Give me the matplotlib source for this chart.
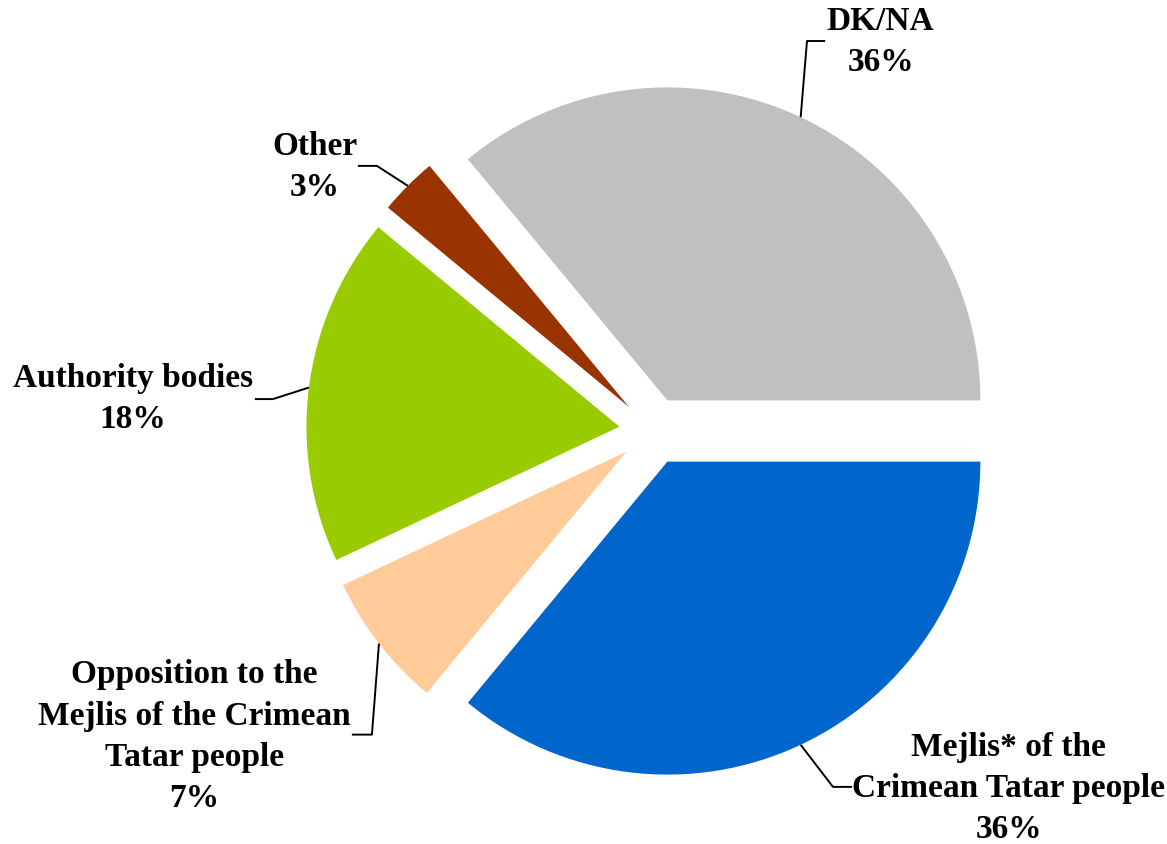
import numpy as np
import matplotlib
matplotlib.use("Agg")
import matplotlib.pyplot as plt

# Data
labels = ["Mejlis* of the\nCrimean Tatar people", "Opposition to the\nMejlis of the Crimean\nTatar people",
          "Authority bodies", "Other", "DK/NA"]
values = [36, 7, 18, 3, 36]
colors = ["#0066CC", "#FFCC99", "#99CC00", "#993300", "#C0C0C0"]

# Layout (data units, pie radius = 1)
explode_d = 0.108
label_pos = [(1.137, -1.140), (-1.465, -0.973), (-1.661, 0.104), (-1.080, 0.848), (0.727, 1.246)]
elbow_pos = [(0.575, -1.137), (-0.898, -0.970), (-1.214, 0.102), (-0.882, 0.847), (0.492, 1.246)]
end_pos = [(0.636, -1.137), (-0.962, -0.970), (-1.272, 0.102), (-0.943, 0.847), (0.550, 1.246)]

W, H = 1167, 845
fig = plt.figure(figsize=(W / 100, H / 100), dpi=100)
ax = fig.add_axes([0, 0, 1, 1])
cx, cy, R = 653, 432, 313  # pixel center & radius
wedges, _ = ax.pie(values, colors=colors, startangle=0, counterclock=False,
                   explode=[explode_d] * len(values), radius=1, center=(0, 0),
                   wedgeprops=dict(linewidth=0))
ax.set_aspect("auto")
ax.set_xlim(-cx / R, (W - cx) / R)
ax.set_ylim(-(H - cy) / R, cy / R)
ax.axis("off")

total = sum(values)
pcts = [f"{round(v / total * 100)}%" for v in values]
for w, lab, pct, lp, el, en in zip(wedges, labels, pcts, label_pos, elbow_pos, end_pos):
    mid = np.deg2rad((w.theta1 + w.theta2) / 2)
    ox, oy = explode_d * np.cos(mid), explode_d * np.sin(mid)
    ax_, ay_ = ox + np.cos(mid), oy + np.sin(mid)
    ax.plot([ax_, el[0], en[0]], [ay_, el[1], en[1]], color="black", lw=1.4, solid_capstyle="butt")
    ax.text(lp[0], lp[1], f"{lab}\n{pct}", ha="center", va="center", multialignment="center",
            fontsize=24, fontweight="bold", family="Liberation Serif", linespacing=1.42)

fig.savefig("out.png", dpi=100)
